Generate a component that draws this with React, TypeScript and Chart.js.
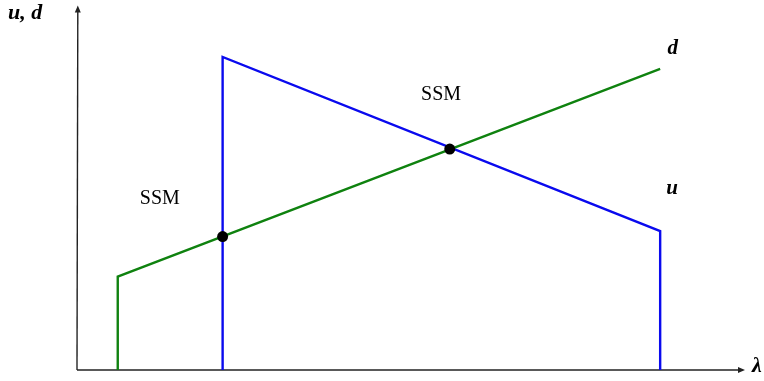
import React, { useEffect, useRef } from "react";
import { Chart, registerables } from "chart.js";

Chart.register(...registerables);

// λ (horizontal) and u, d (vertical) in arbitrary units
const uLambda = [21.8, 21.8, 87.3, 87.3];
const uValues = [0, 85.9, 38.1, 0];
const dLambda = [6.1, 6.1, 87.3];
const dValues = [0, 25.6, 82.6];
const dotLambda = [21.8, 55.8];
const dotValues = [36.6, 60.6];

const regionLabels = ["SSM", "SSM"];
const regionLambda = [12.4, 54.5];
const regionValues = [46.9, 75.5];

const curveNames = ["d", "u"];
const curveNameLambda = [89.2, 89.1];
const curveNameValues = [88.3, 49.9];

const xMin = 0, xMax = 100, yMin = 0, yMax = 100;

const toPts = (xs: number[], ys: number[]) => xs.map((x, i) => ({ x, y: ys[i] }));

export default function App() {
  const ref = useRef<HTMLCanvasElement | null>(null);

  useEffect(() => {
    if (!ref.current) return;
    const decor = {
      id: "decor",
      beforeDatasetsDraw(chart: any) {
        const { ctx, scales } = chart;
        const xs = scales.x, ys = scales.y;
        const x0 = xs.getPixelForValue(xMin);
        const x1 = xs.getPixelForValue(xMax);
        const y0 = ys.getPixelForValue(yMin);
        const y1 = ys.getPixelForValue(yMax);
        ctx.save();
        ctx.strokeStyle = "#222";
        ctx.fillStyle = "#222";
        ctx.lineWidth = 1.4;
        // x axis
        ctx.beginPath();
        ctx.moveTo(x0, y0);
        ctx.lineTo(x1 - 5, y0);
        ctx.stroke();
        ctx.beginPath();
        ctx.moveTo(x1, y0);
        ctx.lineTo(x1 - 7, y0 - 3);
        ctx.lineTo(x1 - 7, y0 + 3);
        ctx.closePath();
        ctx.fill();
        // y axis
        ctx.beginPath();
        ctx.moveTo(x0, y0);
        ctx.lineTo(x0 + 0.8, y1 + 5);
        ctx.stroke();
        ctx.beginPath();
        ctx.moveTo(x0 + 0.8, y1);
        ctx.lineTo(x0 - 2.2, y1 + 7);
        ctx.lineTo(x0 + 3.8, y1 + 7);
        ctx.closePath();
        ctx.fill();
        ctx.restore();
      },
      afterDatasetsDraw(chart: any) {
        const { ctx, scales } = chart;
        const xs = scales.x, ys = scales.y;
        const x0 = xs.getPixelForValue(xMin);
        const x1 = xs.getPixelForValue(xMax);
        const y0 = ys.getPixelForValue(yMin);
        const y1 = ys.getPixelForValue(yMax);
        ctx.save();
        ctx.fillStyle = "#000";
        ctx.textAlign = "center";
        ctx.textBaseline = "middle";
        ctx.font = '20px "Liberation Serif", serif';
        regionLabels.forEach((t, i) => {
          ctx.fillText(t, xs.getPixelForValue(regionLambda[i]), ys.getPixelForValue(regionValues[i]));
        });
        ctx.font = 'italic bold 21px "Liberation Serif", serif';
        curveNames.forEach((t, i) => {
          ctx.fillText(t, xs.getPixelForValue(curveNameLambda[i]), ys.getPixelForValue(curveNameValues[i]));
        });
        ctx.textAlign = "left";
        ctx.font = 'italic bold 22px "Liberation Serif", serif';
        ctx.fillText("u, d", x0 - 69, y1 + 8);
        ctx.fillText("λ", x1 + 7, y0 - 4);
        ctx.restore();
      },
    };

    const chart = new Chart(ref.current, {
      type: "scatter",
      data: {
        datasets: [
          {
            label: "u",
            data: toPts(uLambda, uValues),
            showLine: true,
            borderColor: "#0a0aee",
            borderWidth: 2.4,
            pointRadius: 0,
            tension: 0,
            order: 2,
          },
          {
            label: "d",
            data: toPts(dLambda, dValues),
            showLine: true,
            borderColor: "#0f820f",
            borderWidth: 2.4,
            pointRadius: 0,
            tension: 0,
            order: 1,
          },
          {
            label: "SSM",
            data: toPts(dotLambda, dotValues),
            showLine: false,
            pointRadius: 5.5,
            pointBorderWidth: 0,
            pointBackgroundColor: "#000",
            pointBorderColor: "#000",
            order: 0,
          },
        ],
      },
      options: {
        animation: false,
        responsive: false,
        maintainAspectRatio: false,
        layout: { padding: { left: 77, right: 19, top: 0, bottom: 11 } },
        plugins: { legend: { display: false }, tooltip: { enabled: false } },
        scales: {
          x: { type: "linear", min: xMin, max: xMax, display: false },
          y: { type: "linear", min: yMin, max: yMax, display: false },
        },
      },
      plugins: [decor],
    });
    return () => chart.destroy();
  }, []);

  return (
    <div style={{ position: "fixed", left: 0, top: 0, width: 764, height: 381, background: "#fff" }}>
      <canvas ref={ref} width={764} height={381} style={{ width: 764, height: 381 }} />
    </div>
  );
}
